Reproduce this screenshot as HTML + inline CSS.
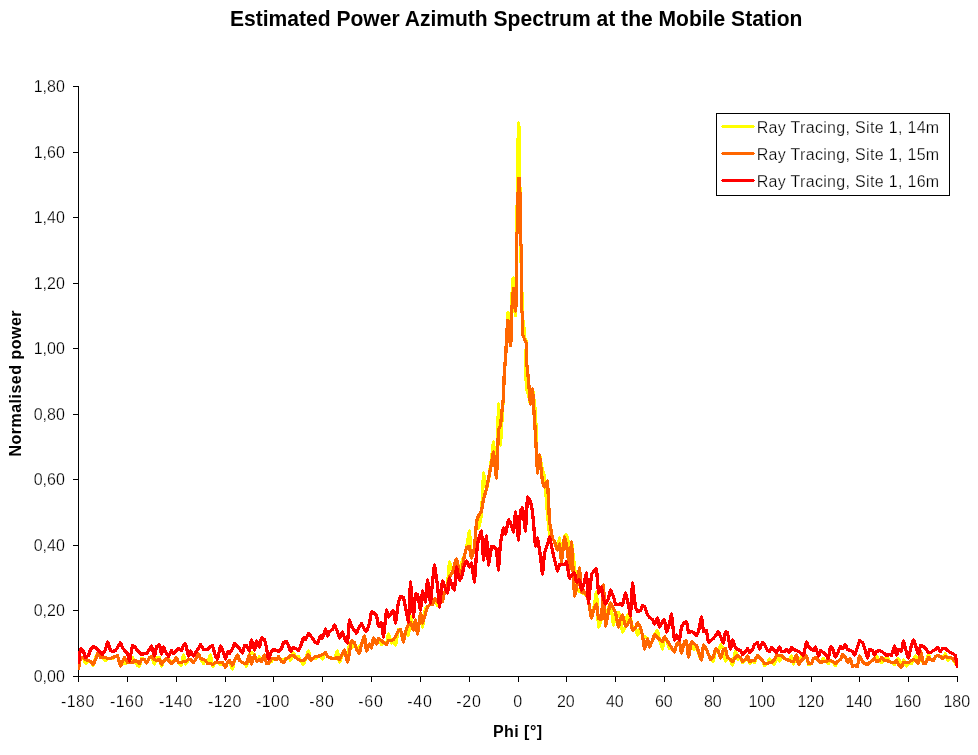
<!DOCTYPE html>
<html lang="en">
<head>
<meta charset="utf-8">
<title>Estimated Power Azimuth Spectrum at the Mobile Station</title>
<style>
html,body{margin:0;padding:0;background:#fff;}
body{width:978px;height:755px;overflow:hidden;font-family:"Liberation Sans",Arial,sans-serif;}
svg{display:block;}
.t{stroke:#fff;stroke-width:0.25px;paint-order:fill stroke;}
</style>
</head>
<body>
<svg width="978" height="755" viewBox="0 0 978 755">
<rect width="978" height="755" fill="#fff"/>
<g fill="#000" shape-rendering="crispEdges">
<rect x="78" y="86" width="1" height="591"/>
<rect x="78" y="676" width="880" height="1"/>
<rect x="73" y="676" width="5" height="1"/>
<rect x="73" y="610" width="5" height="1"/>
<rect x="73" y="545" width="5" height="1"/>
<rect x="73" y="479" width="5" height="1"/>
<rect x="73" y="414" width="5" height="1"/>
<rect x="73" y="348" width="5" height="1"/>
<rect x="73" y="283" width="5" height="1"/>
<rect x="73" y="217" width="5" height="1"/>
<rect x="73" y="152" width="5" height="1"/>
<rect x="73" y="86" width="5" height="1"/>
<rect x="78" y="676" width="1" height="6"/>
<rect x="127" y="676" width="1" height="6"/>
<rect x="176" y="676" width="1" height="6"/>
<rect x="225" y="676" width="1" height="6"/>
<rect x="273" y="676" width="1" height="6"/>
<rect x="322" y="676" width="1" height="6"/>
<rect x="371" y="676" width="1" height="6"/>
<rect x="420" y="676" width="1" height="6"/>
<rect x="469" y="676" width="1" height="6"/>
<rect x="518" y="676" width="1" height="6"/>
<rect x="566" y="676" width="1" height="6"/>
<rect x="615" y="676" width="1" height="6"/>
<rect x="664" y="676" width="1" height="6"/>
<rect x="713" y="676" width="1" height="6"/>
<rect x="762" y="676" width="1" height="6"/>
<rect x="811" y="676" width="1" height="6"/>
<rect x="859" y="676" width="1" height="6"/>
<rect x="908" y="676" width="1" height="6"/>
<rect x="957" y="676" width="1" height="6"/>
</g>
<defs>
<clipPath id="plot"><rect x="78" y="80" width="880" height="597"/></clipPath>
<polyline id="c-yellow" points="78.5,669.5 80.5,657.5 83.5,657.5 85.5,663.5 88.5,660.5 90.5,661.5 93.5,665.5 95.5,657.5 98.5,651.5 100.5,657.5 102.5,657.5 105.5,660.5 107.5,658.5 110.5,658.5 112.5,658.5 115.5,656.5 117.5,655.5 120.5,666.5 122.5,661.5 124.5,663.5 127.5,662.5 129.5,662.5 132.5,657.5 134.5,660.5 137.5,665.5 139.5,666.5 141.5,658.5 144.5,659.5 146.5,663.5 149.5,657.5 151.5,656.5 154.5,664.5 156.5,657.5 159.5,657.5 161.5,666.5 163.5,661.5 166.5,658.5 168.5,658.5 171.5,663.5 173.5,661.5 176.5,657.5 178.5,662.5 181.5,665.5 183.5,654.5 185.5,664.5 188.5,659.5 190.5,659.5 193.5,662.5 195.5,659.5 198.5,653.5 200.5,658.5 203.5,663.5 205.5,660.5 207.5,663.5 210.5,654.5 212.5,666.5 215.5,662.5 217.5,662.5 220.5,664.5 222.5,662.5 225.5,667.5 227.5,662.5 229.5,660.5 232.5,669.5 234.5,660.5 237.5,654.5 239.5,660.5 242.5,662.5 244.5,663.5 246.5,666.5 249.5,654.5 251.5,652.5 254.5,654.5 256.5,661.5 259.5,656.5 261.5,661.5 264.5,654.5 266.5,663.5 268.5,663.5 271.5,661.5 273.5,658.5 276.5,659.5 278.5,656.5 281.5,661.5 283.5,659.5 286.5,658.5 288.5,657.5 290.5,660.5 293.5,652.5 295.5,657.5 298.5,656.5 300.5,660.5 303.5,664.5 305.5,658.5 308.5,650.5 310.5,660.5 312.5,658.5 315.5,658.5 317.5,656.5 320.5,655.5 322.5,659.5 325.5,652.5 327.5,656.5 329.5,657.5 332.5,658.5 334.5,658.5 337.5,650.5 339.5,662.5 342.5,653.5 344.5,649.5 347.5,662.5 349.5,642.5 351.5,648.5 354.5,642.5 356.5,649.5 359.5,646.5 361.5,644.5 364.5,635.5 366.5,651.5 369.5,643.5 371.5,648.5 373.5,637.5 376.5,644.5 378.5,638.5 381.5,644.5 383.5,642.5 386.5,644.5 388.5,633.5 391.5,643.5 393.5,639.5 395.5,645.5 398.5,629.5 400.5,629.5 403.5,642.5 405.5,631.5 408.5,635.5 410.5,615.5 413.5,630.5 415.5,619.5 417.5,634.5 420.5,612.5 422.5,627.5 425.5,608.5 427.5,606.5 430.5,604.5 432.5,604.5 434.5,598.5 437.5,605.5 439.5,603.5 442.5,601.5 444.5,592.5 447.5,585.5 449.5,561.5 452.5,572.5 454.5,564.5 456.5,558.5 459.5,573.5 461.5,562.5 464.5,555.5 466.5,547.5 469.5,530.5 471.5,558.5 474.5,547.5 476.5,521.5 478.5,528.5 481.5,515.5 483.5,472.5 486.5,489.5 488.5,480.5 491.5,458.5 493.5,441.5 496.5,478.5 498.5,403.5 500.5,445.5 503.5,394.5 504.3,371.7 505.7,356.3 506.4,341.0 507.1,328.7 508.1,312.1 509.1,330.8 510.5,346.1 511.0,341.0 511.2,335.6 511.4,312.1 512.0,294.7 513.2,277.3 514.5,294.7 515.3,316.1 516.3,294.7 516.5,294.0 516.5,207.0 517.5,205.0 517.5,140.0 518.5,138.0 518.5,122.5 519.5,131.0 519.5,187.0 520.5,188.0 520.5,261.0 521.5,263.0 521.5,292.0 522.5,294.0 522.5,320.0 523.5,322.0 524.5,337.0 526.1,341.0 526.3,341.0 525.9,365.5 526.3,390.1 527.5,390.5 530.5,404.5 532.5,388.5 535.5,412.5 537.5,473.5 539.5,454.5 542.5,470.5 544.5,475.5 547.5,514.5 549.5,534.5 552.5,538.5 554.5,541.5 557.5,550.5 559.5,537.5 561.5,562.5 564.5,536.5 566.5,534.5 569.5,546.5 571.5,541.5 574.5,566.5 576.5,588.5 579.5,591.5 581.5,592.5 583.5,593.5 586.5,595.5 588.5,600.5 591.5,618.5 593.5,610.5 596.5,591.5 598.5,627.5 601.5,619.5 603.5,584.5 605.5,626.5 608.5,607.5 610.5,602.5 613.5,625.5 615.5,612.5 618.5,612.5 620.5,618.5 622.5,632.5 625.5,626.5 627.5,614.5 630.5,618.5 632.5,627.5 635.5,627.5 637.5,635.5 640.5,627.5 642.5,635.5 644.5,636.5 647.5,638.5 649.5,647.5 652.5,640.5 654.5,634.5 657.5,630.5 659.5,639.5 662.5,649.5 664.5,636.5 666.5,639.5 669.5,648.5 671.5,647.5 674.5,652.5 676.5,644.5 679.5,641.5 681.5,653.5 684.5,641.5 686.5,640.5 688.5,657.5 691.5,641.5 693.5,649.5 696.5,645.5 698.5,653.5 701.5,660.5 703.5,644.5 706.5,649.5 708.5,654.5 710.5,659.5 713.5,661.5 715.5,648.5 718.5,651.5 720.5,644.5 723.5,649.5 725.5,661.5 727.5,657.5 730.5,659.5 732.5,665.5 735.5,650.5 737.5,659.5 740.5,657.5 742.5,662.5 745.5,659.5 747.5,655.5 749.5,663.5 752.5,660.5 754.5,662.5 757.5,655.5 759.5,657.5 762.5,660.5 764.5,665.5 767.5,663.5 769.5,658.5 771.5,662.5 774.5,664.5 776.5,655.5 779.5,661.5 781.5,655.5 784.5,658.5 786.5,659.5 789.5,660.5 791.5,655.5 793.5,664.5 796.5,654.5 798.5,664.5 801.5,656.5 803.5,658.5 806.5,655.5 808.5,664.5 811.5,663.5 813.5,658.5 815.5,657.5 818.5,660.5 820.5,662.5 823.5,658.5 825.5,661.5 828.5,663.5 830.5,660.5 832.5,661.5 835.5,665.5 837.5,661.5 840.5,659.5 842.5,654.5 845.5,657.5 847.5,662.5 850.5,658.5 852.5,666.5 854.5,665.5 857.5,666.5 859.5,655.5 862.5,661.5 864.5,663.5 867.5,664.5 869.5,662.5 872.5,660.5 874.5,658.5 876.5,656.5 879.5,660.5 881.5,662.5 884.5,660.5 886.5,656.5 889.5,661.5 891.5,662.5 894.5,664.5 896.5,660.5 898.5,658.5 901.5,667.5 903.5,659.5 906.5,666.5 908.5,662.5 911.5,663.5 913.5,659.5 915.5,655.5 918.5,663.5 920.5,654.5 923.5,663.5 925.5,663.5 928.5,654.5 930.5,659.5 933.5,660.5 935.5,656.5 937.5,655.5 940.5,656.5 942.5,658.5 945.5,653.5 947.5,660.5 950.5,657.5 952.5,658.5 955.5,663.5 957.5,666.5"/>
<polyline id="c-orange" points="78.5,669.5 80.5,657.5 83.5,657.5 85.5,659.5 88.5,660.5 90.5,661.5 93.5,664.5 95.5,659.5 98.5,651.5 100.5,657.5 102.5,657.5 105.5,657.5 107.5,658.5 110.5,658.5 112.5,657.5 115.5,656.5 117.5,655.5 120.5,666.5 122.5,661.5 124.5,657.5 127.5,662.5 129.5,662.5 132.5,662.5 134.5,660.5 137.5,661.5 139.5,663.5 141.5,659.5 144.5,659.5 146.5,663.5 149.5,657.5 151.5,656.5 154.5,659.5 156.5,660.5 159.5,659.5 161.5,664.5 163.5,661.5 166.5,658.5 168.5,660.5 171.5,663.5 173.5,661.5 176.5,657.5 178.5,662.5 181.5,662.5 183.5,661.5 185.5,661.5 188.5,659.5 190.5,659.5 193.5,662.5 195.5,659.5 198.5,653.5 200.5,658.5 203.5,659.5 205.5,660.5 207.5,663.5 210.5,663.5 212.5,664.5 215.5,662.5 217.5,662.5 220.5,662.5 222.5,662.5 225.5,667.5 227.5,662.5 229.5,660.5 232.5,665.5 234.5,660.5 237.5,654.5 239.5,660.5 242.5,662.5 244.5,663.5 246.5,663.5 249.5,654.5 251.5,664.5 254.5,654.5 256.5,661.5 259.5,659.5 261.5,661.5 264.5,654.5 266.5,663.5 268.5,663.5 271.5,658.5 273.5,658.5 276.5,659.5 278.5,656.5 281.5,661.5 283.5,662.5 286.5,658.5 288.5,657.5 290.5,655.5 293.5,655.5 295.5,657.5 298.5,659.5 300.5,660.5 303.5,660.5 305.5,658.5 308.5,654.5 310.5,660.5 312.5,658.5 315.5,656.5 317.5,656.5 320.5,655.5 322.5,654.5 325.5,652.5 327.5,656.5 329.5,657.5 332.5,658.5 334.5,658.5 337.5,657.5 339.5,659.5 342.5,653.5 344.5,649.5 347.5,662.5 349.5,652.5 351.5,640.5 354.5,642.5 356.5,649.5 359.5,653.5 361.5,644.5 364.5,635.5 366.5,651.5 369.5,643.5 371.5,648.5 373.5,637.5 376.5,644.5 378.5,638.5 381.5,640.5 383.5,642.5 386.5,644.5 388.5,640.5 391.5,640.5 393.5,639.5 395.5,636.5 398.5,630.5 400.5,629.5 403.5,642.5 405.5,631.5 408.5,624.5 410.5,622.5 413.5,630.5 415.5,619.5 417.5,634.5 420.5,612.5 422.5,623.5 425.5,613.5 427.5,606.5 430.5,604.5 432.5,604.5 434.5,598.5 437.5,601.5 439.5,603.5 442.5,601.5 444.5,592.5 447.5,585.5 449.5,576.5 452.5,572.5 454.5,564.5 456.5,558.5 459.5,573.5 461.5,572.5 464.5,555.5 466.5,547.5 469.5,546.5 471.5,558.5 474.5,547.5 476.5,521.5 478.5,515.5 481.5,511.5 483.5,499.5 486.5,488.5 488.5,478.5 491.5,463.5 493.5,451.5 496.5,478.5 498.5,429.5 500.5,425.5 503.5,396.5 504.3,371.7 505.7,356.3 506.4,341.0 507.1,328.7 507.9,319.7 509.1,330.8 510.5,346.1 511.0,341.0 511.2,335.6 511.6,312.1 513.0,294.7 513.5,288.0 514.9,294.7 515.6,311.5 516.5,294.7 516.5,294.0 516.5,234.0 517.5,232.0 517.5,194.0 518.5,192.0 518.5,178.5 519.5,178.5 519.5,192.0 520.5,194.0 520.5,244.0 521.5,246.0 521.5,311.0 522.5,313.0 522.5,334.0 523.4,336.6 525.3,341.0 525.3,341.0 526.8,344.1 526.8,364.5 527.5,369.5 530.5,404.5 532.5,388.5 535.5,435.5 537.5,473.5 539.5,454.5 542.5,481.5 544.5,487.5 547.5,480.5 549.5,521.5 552.5,538.5 554.5,541.5 557.5,550.5 559.5,543.5 561.5,562.5 564.5,536.5 566.5,544.5 569.5,569.5 571.5,541.5 574.5,596.5 576.5,588.5 579.5,567.5 581.5,592.5 583.5,590.5 586.5,595.5 588.5,600.5 591.5,618.5 593.5,610.5 596.5,603.5 598.5,618.5 601.5,619.5 603.5,584.5 605.5,626.5 608.5,611.5 610.5,602.5 613.5,608.5 615.5,612.5 618.5,627.5 620.5,618.5 622.5,614.5 625.5,626.5 627.5,624.5 630.5,618.5 632.5,630.5 635.5,627.5 637.5,622.5 640.5,627.5 642.5,635.5 644.5,649.5 647.5,638.5 649.5,647.5 652.5,640.5 654.5,634.5 657.5,637.5 659.5,639.5 662.5,641.5 664.5,636.5 666.5,639.5 669.5,644.5 671.5,647.5 674.5,652.5 676.5,644.5 679.5,641.5 681.5,653.5 684.5,641.5 686.5,640.5 688.5,657.5 691.5,641.5 693.5,643.5 696.5,645.5 698.5,651.5 701.5,660.5 703.5,644.5 706.5,649.5 708.5,654.5 710.5,659.5 713.5,656.5 715.5,648.5 718.5,651.5 720.5,658.5 723.5,649.5 725.5,648.5 727.5,657.5 730.5,659.5 732.5,661.5 735.5,657.5 737.5,655.5 740.5,657.5 742.5,661.5 745.5,659.5 747.5,655.5 749.5,661.5 752.5,660.5 754.5,660.5 757.5,655.5 759.5,657.5 762.5,660.5 764.5,663.5 767.5,663.5 769.5,662.5 771.5,662.5 774.5,659.5 776.5,655.5 779.5,655.5 781.5,655.5 784.5,658.5 786.5,659.5 789.5,660.5 791.5,661.5 793.5,661.5 796.5,654.5 798.5,664.5 801.5,660.5 803.5,658.5 806.5,655.5 808.5,663.5 811.5,663.5 813.5,658.5 815.5,657.5 818.5,660.5 820.5,662.5 823.5,661.5 825.5,661.5 828.5,660.5 830.5,660.5 832.5,661.5 835.5,663.5 837.5,661.5 840.5,659.5 842.5,654.5 845.5,657.5 847.5,662.5 850.5,658.5 852.5,666.5 854.5,665.5 857.5,666.5 859.5,655.5 862.5,661.5 864.5,663.5 867.5,664.5 869.5,662.5 872.5,660.5 874.5,658.5 876.5,661.5 879.5,660.5 881.5,657.5 884.5,660.5 886.5,660.5 889.5,661.5 891.5,662.5 894.5,662.5 896.5,660.5 898.5,664.5 901.5,667.5 903.5,662.5 906.5,662.5 908.5,662.5 911.5,660.5 913.5,659.5 915.5,660.5 918.5,663.5 920.5,650.5 923.5,663.5 925.5,663.5 928.5,657.5 930.5,659.5 933.5,660.5 935.5,656.5 937.5,655.5 940.5,656.5 942.5,658.5 945.5,656.5 947.5,657.5 950.5,657.5 952.5,658.5 955.5,661.5 957.5,666.5"/>
<polyline id="c-red" points="78.5,663.5 80.5,648.5 83.5,651.5 85.5,657.5 88.5,655.5 90.5,649.5 93.5,646.5 95.5,647.5 98.5,650.5 100.5,652.5 102.5,654.5 105.5,649.5 107.5,641.5 110.5,650.5 112.5,651.5 115.5,650.5 117.5,647.5 120.5,642.5 122.5,647.5 124.5,650.5 127.5,653.5 129.5,661.5 132.5,645.5 134.5,646.5 137.5,650.5 139.5,652.5 141.5,654.5 144.5,653.5 146.5,653.5 149.5,649.5 151.5,645.5 154.5,656.5 156.5,646.5 159.5,644.5 161.5,654.5 163.5,646.5 166.5,653.5 168.5,656.5 171.5,650.5 173.5,653.5 176.5,650.5 178.5,648.5 181.5,650.5 183.5,645.5 185.5,643.5 188.5,656.5 190.5,650.5 193.5,656.5 195.5,652.5 198.5,648.5 200.5,644.5 203.5,649.5 205.5,649.5 207.5,649.5 210.5,646.5 212.5,645.5 215.5,656.5 217.5,659.5 220.5,645.5 222.5,649.5 225.5,659.5 227.5,651.5 229.5,653.5 232.5,648.5 234.5,643.5 237.5,646.5 239.5,648.5 242.5,653.5 244.5,645.5 246.5,645.5 249.5,651.5 251.5,639.5 254.5,650.5 256.5,640.5 259.5,647.5 261.5,637.5 264.5,639.5 266.5,647.5 268.5,659.5 271.5,651.5 273.5,649.5 276.5,650.5 278.5,651.5 281.5,648.5 283.5,642.5 286.5,641.5 288.5,645.5 290.5,651.5 293.5,647.5 295.5,648.5 298.5,650.5 300.5,646.5 303.5,637.5 305.5,639.5 308.5,633.5 310.5,635.5 312.5,638.5 315.5,642.5 317.5,643.5 320.5,635.5 322.5,638.5 325.5,628.5 327.5,636.5 329.5,631.5 332.5,629.5 334.5,624.5 337.5,631.5 339.5,638.5 342.5,631.5 344.5,638.5 347.5,643.5 349.5,619.5 351.5,626.5 354.5,630.5 356.5,633.5 359.5,626.5 361.5,623.5 364.5,629.5 366.5,631.5 369.5,623.5 371.5,611.5 373.5,612.5 376.5,615.5 378.5,626.5 381.5,622.5 383.5,637.5 386.5,609.5 388.5,617.5 391.5,612.5 393.5,610.5 395.5,623.5 398.5,601.5 400.5,596.5 403.5,597.5 405.5,607.5 408.5,622.5 410.5,581.5 413.5,617.5 415.5,593.5 417.5,594.5 420.5,610.5 422.5,590.5 425.5,602.5 427.5,579.5 430.5,603.5 432.5,582.5 434.5,564.5 437.5,585.5 439.5,607.5 442.5,580.5 444.5,586.5 447.5,593.5 449.5,577.5 452.5,587.5 454.5,590.5 456.5,566.5 459.5,580.5 461.5,577.5 464.5,564.5 466.5,560.5 469.5,567.5 471.5,562.5 474.5,582.5 476.5,553.5 478.5,538.5 481.5,530.5 483.5,560.5 486.5,535.5 488.5,565.5 491.5,546.5 493.5,546.5 496.5,549.5 498.5,570.5 500.5,542.5 503.5,527.5 505.5,534.5 508.5,519.5 510.5,522.5 513.5,532.5 515.5,511.5 518.5,540.5 520.5,510.5 522.5,507.5 525.5,531.5 527.5,496.5 530.5,501.5 532.5,511.5 535.5,546.5 537.5,537.5 539.5,549.5 542.5,574.5 544.5,552.5 547.5,544.5 549.5,536.5 552.5,550.5 554.5,559.5 557.5,571.5 559.5,564.5 561.5,564.5 564.5,564.5 566.5,561.5 569.5,578.5 571.5,575.5 574.5,572.5 576.5,582.5 579.5,579.5 581.5,590.5 583.5,585.5 586.5,572.5 588.5,603.5 591.5,574.5 593.5,571.5 596.5,568.5 598.5,593.5 601.5,586.5 603.5,599.5 605.5,604.5 608.5,598.5 610.5,589.5 613.5,596.5 615.5,604.5 618.5,604.5 620.5,603.5 622.5,605.5 625.5,592.5 627.5,600.5 630.5,616.5 632.5,582.5 635.5,607.5 637.5,611.5 640.5,610.5 642.5,605.5 644.5,606.5 647.5,614.5 649.5,617.5 652.5,619.5 654.5,624.5 657.5,617.5 659.5,627.5 662.5,621.5 664.5,619.5 666.5,632.5 669.5,623.5 671.5,613.5 674.5,640.5 676.5,634.5 679.5,640.5 681.5,626.5 684.5,622.5 686.5,621.5 688.5,632.5 691.5,631.5 693.5,632.5 696.5,635.5 698.5,631.5 701.5,616.5 703.5,631.5 706.5,630.5 708.5,642.5 710.5,640.5 713.5,638.5 715.5,635.5 718.5,631.5 720.5,636.5 723.5,643.5 725.5,631.5 727.5,632.5 730.5,649.5 732.5,639.5 735.5,647.5 737.5,649.5 740.5,650.5 742.5,654.5 745.5,651.5 747.5,648.5 749.5,652.5 752.5,649.5 754.5,644.5 757.5,642.5 759.5,649.5 762.5,642.5 764.5,644.5 767.5,650.5 769.5,651.5 771.5,647.5 774.5,650.5 776.5,652.5 779.5,646.5 781.5,651.5 784.5,651.5 786.5,649.5 789.5,652.5 791.5,647.5 793.5,649.5 796.5,650.5 798.5,651.5 801.5,653.5 803.5,655.5 806.5,641.5 808.5,646.5 811.5,649.5 813.5,650.5 815.5,646.5 818.5,656.5 820.5,650.5 823.5,652.5 825.5,654.5 828.5,658.5 830.5,646.5 832.5,648.5 835.5,657.5 837.5,653.5 840.5,646.5 842.5,648.5 845.5,644.5 847.5,649.5 850.5,650.5 852.5,651.5 854.5,655.5 857.5,647.5 859.5,640.5 862.5,642.5 864.5,647.5 867.5,658.5 869.5,649.5 872.5,650.5 874.5,655.5 876.5,651.5 879.5,650.5 881.5,651.5 884.5,653.5 886.5,655.5 889.5,654.5 891.5,655.5 894.5,645.5 896.5,655.5 898.5,649.5 901.5,651.5 903.5,640.5 906.5,652.5 908.5,658.5 911.5,644.5 913.5,639.5 915.5,645.5 918.5,654.5 920.5,645.5 923.5,646.5 925.5,648.5 928.5,652.5 930.5,652.5 933.5,650.5 935.5,649.5 937.5,647.5 940.5,651.5 942.5,648.5 945.5,648.5 947.5,650.5 950.5,652.5 952.5,653.5 955.5,655.5 957.5,667.5"/>
</defs>
<g clip-path="url(#plot)" fill="none" stroke="#ffff00" stroke-width="1.3" stroke-linejoin="bevel" stroke-linecap="butt" shape-rendering="crispEdges">
<use href="#c-yellow" transform="translate(0 0)"/>
<use href="#c-yellow" transform="translate(-1 0)"/>
<use href="#c-yellow" transform="translate(1 0)"/>
<use href="#c-yellow" transform="translate(0 -1)"/>
<use href="#c-yellow" transform="translate(0 1)"/>
<use href="#c-yellow" transform="translate(-0.7 -0.7)"/>
<use href="#c-yellow" transform="translate(0.7 -0.7)"/>
<use href="#c-yellow" transform="translate(-0.7 0.7)"/>
<use href="#c-yellow" transform="translate(0.7 0.7)"/>
</g>
<g clip-path="url(#plot)" fill="none" stroke="#ff6600" stroke-width="1.3" stroke-linejoin="bevel" stroke-linecap="butt" shape-rendering="crispEdges">
<use href="#c-orange" transform="translate(0 0)"/>
<use href="#c-orange" transform="translate(-1 0)"/>
<use href="#c-orange" transform="translate(1 0)"/>
<use href="#c-orange" transform="translate(0 -1)"/>
<use href="#c-orange" transform="translate(0 1)"/>
<use href="#c-orange" transform="translate(-0.7 -0.7)"/>
<use href="#c-orange" transform="translate(0.7 -0.7)"/>
<use href="#c-orange" transform="translate(-0.7 0.7)"/>
<use href="#c-orange" transform="translate(0.7 0.7)"/>
</g>
<g clip-path="url(#plot)" fill="none" stroke="#ff0000" stroke-width="1.3" stroke-linejoin="bevel" stroke-linecap="butt" shape-rendering="crispEdges">
<use href="#c-red" transform="translate(0 0)"/>
<use href="#c-red" transform="translate(-1 0)"/>
<use href="#c-red" transform="translate(1 0)"/>
<use href="#c-red" transform="translate(0 -1)"/>
<use href="#c-red" transform="translate(0 1)"/>
<use href="#c-red" transform="translate(-0.7 -0.7)"/>
<use href="#c-red" transform="translate(0.7 -0.7)"/>
<use href="#c-red" transform="translate(-0.7 0.7)"/>
<use href="#c-red" transform="translate(0.7 0.7)"/>
</g>
<rect x="716.5" y="113.5" width="233" height="82" fill="#fff" stroke="#000" stroke-width="1" shape-rendering="crispEdges"/>
<rect x="722" y="125" width="32" height="3" fill="#ffff00" shape-rendering="crispEdges"/>
<rect x="721" y="126" width="34" height="1" fill="#ffff00" shape-rendering="crispEdges"/>
<rect x="722" y="152" width="32" height="3" fill="#ff6600" shape-rendering="crispEdges"/>
<rect x="721" y="153" width="34" height="1" fill="#ff6600" shape-rendering="crispEdges"/>
<rect x="722" y="179" width="32" height="3" fill="#ff0000" shape-rendering="crispEdges"/>
<rect x="721" y="180" width="34" height="1" fill="#ff0000" shape-rendering="crispEdges"/>
<g font-family="'Liberation Sans', Arial, sans-serif" fill="#000">
<text x="516.2" y="26" text-anchor="middle" font-size="21.8" font-weight="bold" textLength="572.5" lengthAdjust="spacingAndGlyphs">Estimated Power Azimuth Spectrum at the Mobile Station</text>
<text class="t" x="756.7" y="133.0" font-size="16" textLength="182.5" lengthAdjust="spacing">Ray Tracing, Site 1, 14m</text>
<text class="t" x="756.7" y="160.0" font-size="16" textLength="182.5" lengthAdjust="spacing">Ray Tracing, Site 1, 15m</text>
<text class="t" x="756.7" y="187.0" font-size="16" textLength="182.5" lengthAdjust="spacing">Ray Tracing, Site 1, 16m</text>
<text class="t" x="64.8" y="681.8" text-anchor="end" font-size="16">0,00</text>
<text class="t" x="64.8" y="615.8" text-anchor="end" font-size="16">0,20</text>
<text class="t" x="64.8" y="550.8" text-anchor="end" font-size="16">0,40</text>
<text class="t" x="64.8" y="484.8" text-anchor="end" font-size="16">0,60</text>
<text class="t" x="64.8" y="419.8" text-anchor="end" font-size="16">0,80</text>
<text class="t" x="64.8" y="353.8" text-anchor="end" font-size="16">1,00</text>
<text class="t" x="64.8" y="288.8" text-anchor="end" font-size="16">1,20</text>
<text class="t" x="64.8" y="222.8" text-anchor="end" font-size="16">1,40</text>
<text class="t" x="64.8" y="157.8" text-anchor="end" font-size="16">1,60</text>
<text class="t" x="64.8" y="91.8" text-anchor="end" font-size="16">1,80</text>
<text class="t" x="77.6" y="706.8" text-anchor="middle" font-size="16" textLength="33.4" lengthAdjust="spacing">-180</text>
<text class="t" x="126.6" y="706.8" text-anchor="middle" font-size="16" textLength="33.4" lengthAdjust="spacing">-160</text>
<text class="t" x="175.6" y="706.8" text-anchor="middle" font-size="16" textLength="33.4" lengthAdjust="spacing">-140</text>
<text class="t" x="224.6" y="706.8" text-anchor="middle" font-size="16" textLength="33.4" lengthAdjust="spacing">-120</text>
<text class="t" x="272.6" y="706.8" text-anchor="middle" font-size="16" textLength="33.4" lengthAdjust="spacing">-100</text>
<text class="t" x="321.6" y="706.8" text-anchor="middle" font-size="16" textLength="24.5" lengthAdjust="spacing">-80</text>
<text class="t" x="370.6" y="706.8" text-anchor="middle" font-size="16" textLength="24.5" lengthAdjust="spacing">-60</text>
<text class="t" x="419.6" y="706.8" text-anchor="middle" font-size="16" textLength="24.5" lengthAdjust="spacing">-40</text>
<text class="t" x="468.6" y="706.8" text-anchor="middle" font-size="16" textLength="24.5" lengthAdjust="spacing">-20</text>
<text class="t" x="517.8" y="706.8" text-anchor="middle" font-size="16">0</text>
<text class="t" x="565.8" y="706.8" text-anchor="middle" font-size="16">20</text>
<text class="t" x="614.8" y="706.8" text-anchor="middle" font-size="16">40</text>
<text class="t" x="663.8" y="706.8" text-anchor="middle" font-size="16">60</text>
<text class="t" x="712.8" y="706.8" text-anchor="middle" font-size="16">80</text>
<text class="t" x="761.8" y="706.8" text-anchor="middle" font-size="16">100</text>
<text class="t" x="810.8" y="706.8" text-anchor="middle" font-size="16">120</text>
<text class="t" x="858.8" y="706.8" text-anchor="middle" font-size="16">140</text>
<text class="t" x="907.8" y="706.8" text-anchor="middle" font-size="16">160</text>
<text class="t" x="956.8" y="706.8" text-anchor="middle" font-size="16">180</text>
<text x="517.5" y="736.8" text-anchor="middle" font-size="16" font-weight="bold" textLength="49.2" lengthAdjust="spacing">Phi [°]</text>
<text transform="translate(20.6 383.5) rotate(-90)" text-anchor="middle" font-size="16" font-weight="bold" textLength="146.2" lengthAdjust="spacing">Normalised power</text>
</g>
</svg>
</body>
</html>
